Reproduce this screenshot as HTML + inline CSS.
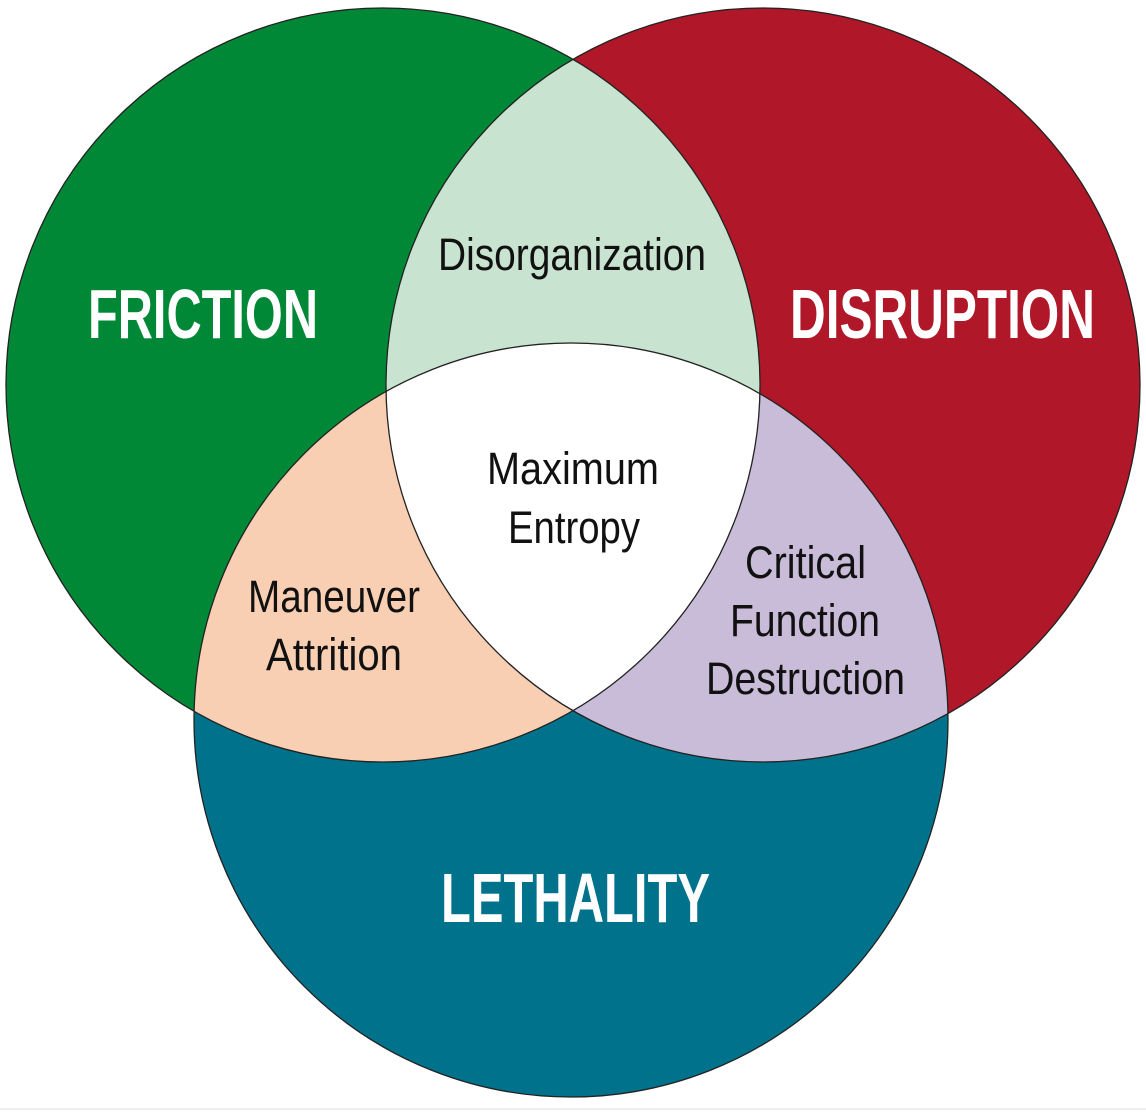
<!DOCTYPE html>
<html><head><meta charset="utf-8"><style>
html,body{margin:0;padding:0;background:#fff;}
svg{display:block;}
text{font-family:"Liberation Sans Narrow","Liberation Sans",sans-serif;}
</style></head><body>
<svg width="1146" height="1112" viewBox="0 0 1146 1112" xmlns="http://www.w3.org/2000/svg">
<defs>
<clipPath id="cA"><circle cx="383" cy="385" r="377"/></clipPath>
<clipPath id="cB"><circle cx="763" cy="385" r="377"/></clipPath>
<clipPath id="cC"><circle cx="571" cy="720" r="377"/></clipPath>
</defs>
<rect width="1146" height="1112" fill="#fff"/>
<circle cx="383" cy="385" r="377" fill="#008837"/>
<circle cx="763" cy="385" r="377" fill="#b01728"/>
<circle cx="571" cy="720" r="377" fill="#00728c"/>
<g clip-path="url(#cA)"><circle cx="763" cy="385" r="377" fill="#c8e3cf"/></g>
<g clip-path="url(#cA)"><circle cx="571" cy="720" r="377" fill="#f9cfb3"/></g>
<g clip-path="url(#cB)"><circle cx="571" cy="720" r="377" fill="#c9bcd8"/></g>
<g clip-path="url(#cA)"><g clip-path="url(#cB)"><circle cx="571" cy="720" r="377" fill="#fff"/></g></g>
<g fill="none" stroke="#222" stroke-width="1.3">
<circle cx="383" cy="385" r="377"/>
<circle cx="763" cy="385" r="377"/>
<circle cx="571" cy="720" r="377"/>
</g>
<line x1="0" y1="1109" x2="1146" y2="1109" stroke="#ddd" stroke-width="1"/>
<g fill="#fff" font-weight="bold" font-size="70">
<text x="88" y="338" textLength="230" lengthAdjust="spacingAndGlyphs">FRICTION</text>
<text x="790" y="338" textLength="305" lengthAdjust="spacingAndGlyphs">DISRUPTION</text>
<text x="441" y="922" textLength="269" lengthAdjust="spacingAndGlyphs">LETHALITY</text>
</g>
<g fill="#111" font-size="45">
<text x="438" y="270" textLength="268" lengthAdjust="spacingAndGlyphs">Disorganization</text>
<text x="487" y="484" textLength="172" lengthAdjust="spacingAndGlyphs">Maximum</text>
<text x="508" y="543" textLength="132" lengthAdjust="spacingAndGlyphs">Entropy</text>
<text x="248" y="612" textLength="172" lengthAdjust="spacingAndGlyphs">Maneuver</text>
<text x="266" y="670" textLength="136" lengthAdjust="spacingAndGlyphs">Attrition</text>
<text x="745" y="578" textLength="121" lengthAdjust="spacingAndGlyphs">Critical</text>
<text x="730" y="636" textLength="150" lengthAdjust="spacingAndGlyphs">Function</text>
<text x="706" y="694" textLength="199" lengthAdjust="spacingAndGlyphs">Destruction</text>
</g>
</svg>
</body></html>
